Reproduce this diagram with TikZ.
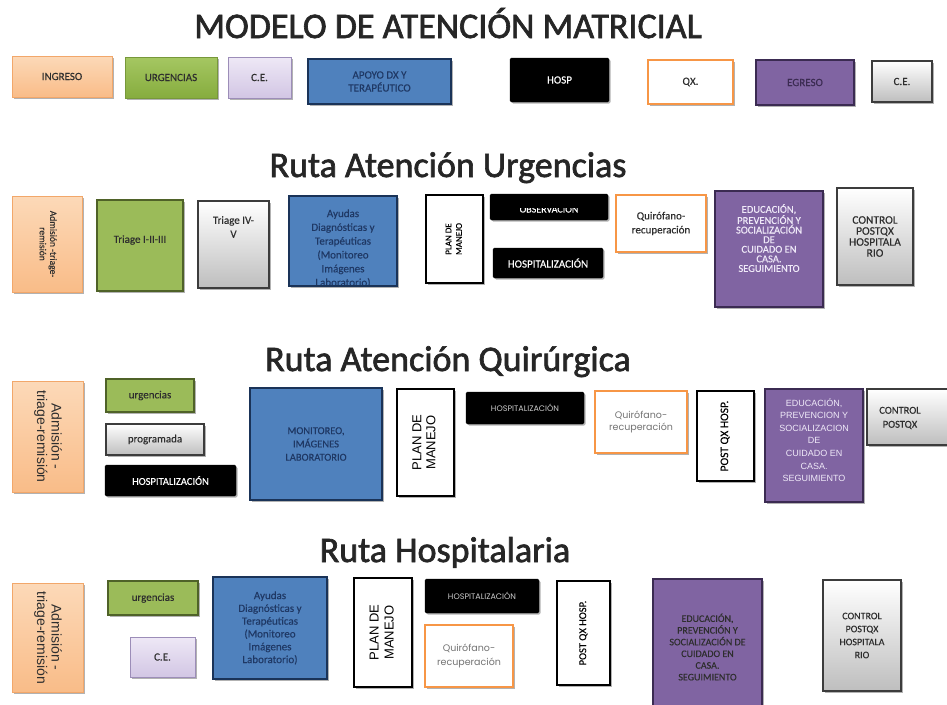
\documentclass[tikz,border=0pt]{standalone}
\usepackage{fontspec}
\setmainfont{Carlito}[FakeBold=0.25]
\newfontfamily\titlef{Carlito}[FakeBold=1.8]
\newfontfamily\arialf{Liberation Sans}
\newfontfamily\gothf{Poppins}
\usepackage{graphicx}
\usetikzlibrary{shadows}
\definecolor{orTop}{HTML}{FCD9B8}
\definecolor{orBot}{HTML}{F9BC88}
\definecolor{orLine}{HTML}{F2A76A}
\definecolor{grFill}{HTML}{9BBB59}
\definecolor{grLine}{HTML}{4F6228}
\definecolor{grTopA}{HTML}{A5C762}
\definecolor{grBotA}{HTML}{86AC3E}
\definecolor{grLineA}{HTML}{77983A}
\definecolor{lvTop}{HTML}{EEE8F6}
\definecolor{lvBot}{HTML}{D2C6E4}
\definecolor{lvLine}{HTML}{9C8DB8}
\definecolor{blFill}{HTML}{4F81BD}
\definecolor{blLine}{HTML}{1A3358}
\definecolor{blText}{HTML}{1F3864}
\definecolor{qxLine}{HTML}{F79646}
\definecolor{ppFill}{HTML}{8064A2}
\definecolor{ppLine}{HTML}{3B2B52}
\definecolor{ppText}{HTML}{EFE9F8}
\definecolor{gyBot}{HTML}{BEBEBE}
\definecolor{gyLine}{HTML}{3C3C3C}
\definecolor{txDark}{HTML}{2E2E2E}
\newcommand{\fs}[2]{\fontsize{#1}{#2}\selectfont}
\newcommand{\rt}[2]{\rotatebox{#1}{\begin{tabular}{@{}c@{}}#2\end{tabular}}}
\newcommand{\bx}[7]{\node[#2, minimum width={#5-#3}, minimum height={#6-#4}] (#1) at ({(#3+#5)/2},{(#4+#6)/2}) {#7};}
\tikzset{
  boxbase/.style={draw, inner sep=0pt, align=center, font=\fs{11}{13}, text=txDark,
    drop shadow={shadow xshift=1.5pt, shadow yshift=-1.5pt, opacity=.3, fill=black}},
  orbox/.style={boxbase, top color=orTop, bottom color=orBot, draw=orLine, line width=1pt},
  grbox/.style={boxbase, fill=grFill, draw=grLine, line width=2.5pt},
  grboxlt/.style={boxbase, top color=grTopA, bottom color=grBotA, draw=grLineA, line width=1pt},
  lvbox/.style={boxbase, top color=lvTop, bottom color=lvBot, draw=lvLine, line width=1pt},
  blbox/.style={boxbase, fill=blFill, draw=blLine, line width=2.5pt, text=blText},
  bkbox/.style={boxbase, fill=black, draw=black, rounded corners=1.5pt, text=white},
  qxbox/.style={boxbase, fill=white, draw=qxLine, line width=2.5pt},
  ppbox/.style={boxbase, fill=ppFill, draw=ppLine, line width=2.5pt, text=ppText},
  gybox/.style={boxbase, top color=white, bottom color=gyBot, draw=gyLine, line width=1.2pt},
  wkbox/.style={boxbase, fill=white, draw=black, line width=2.5pt, text=black},
  gothsmall/.style={font={\gothf\fs{8}{10}}, text=black!20},
  gothgrey/.style={font={\gothf\fs{9.5}{12}}, text=black!55},
  lbl/.style={inner sep=0pt, align=center, font=\fs{11}{13}, text=txDark},
  ttl/.style={font=\titlef\fs{36}{40}, anchor=base, inner sep=0pt, text=black!85}
}
\begin{document}
\begin{tikzpicture}[x=1pt,y=-1pt]
\useasboundingbox (0,0) rectangle (947,704);
\fill[white] (0,0) rectangle (947,704);
\clip (0,0) rectangle (947,704);

% ---------- titles ----------
\node[ttl] (t1) at (448,38) {MODELO DE ATENCIÓN MATRICIAL};
\node[ttl] (t2) at (448,177) {Ruta Atención Urgencias};
\node[ttl] (t3) at (448,371) {Ruta Atención Quirúrgica};
\node[ttl] (t4) at (445,562) {Ruta Hospitalaria};

% ---------- top row ----------
\bx{ingreso}{orbox}{12}{56}{112}{97}{INGRESO}
\bx{urgtop}{grboxlt}{125}{57}{217}{98}{URGENCIAS}
\bx{cetop}{lvbox}{228}{57}{291}{98}{C.E.}
\bx{apoyo}{blbox}{308}{59}{451}{104}{APOYO DX Y\\TERAPÉUTICO}
\bx{hosp}{bkbox}{510}{58}{609}{102}{HOSP}
\bx{qx}{qxbox}{648}{60}{733}{104}{QX.}
\bx{egreso}{ppbox, text=ppLine}{756}{60}{854}{105}{EGRESO}
\bx{cetopb}{gybox}{872}{61}{932}{102}{C.E.}

% ---------- row 2: urgencias ----------
\bx{adma}{orbox}{12}{196}{82}{292}{\fs{9.5}{10.5}\rt{-90}{Admisión -triage-\\remisión}}
\bx{triA}{grbox}{97}{200}{183}{291}{}
\node[lbl] (triAt) at (140,240) {Triage I-II-III};
\bx{triB}{gybox}{198}{201}{269}{288}{}
\node[lbl, font=\fs{11}{14}] (triBt) at (233.5,227) {Triage IV-\\V};
\bx{ayuA}{blbox}{289}{196}{397}{286}{}
\begin{scope}
\clip (291,198) rectangle (395,284);
\node[lbl, text=blText, font=\fs{11}{13.8}] (ayuAt) at (343,248.5) {Ayudas\\Diagnósticas y\\Terapéuticas\\(Monitoreo\\Imágenes\\Laboratorio)};
\end{scope}
\bx{planA}{wkbox}{426}{195}{483}{283}{\fs{9}{10.5}\rt{90}{PLAN DE\\MANEJO}}
\bx{obsA}{bkbox}{490}{194}{608}{220}{}
\begin{scope}
\clip (490,208.5) rectangle (608,220);
\node[lbl, text=white, font=\fs{10}{12}, anchor=base] (obsAt) at (549,212.5) {OBSERVACIÓN};
\end{scope}
\bx{hospA}{bkbox}{493}{248}{603}{278}{HOSPITALIZACIÓN}
\bx{qrfA}{qxbox, font=\fs{11}{14}}{616}{195}{706}{252}{Quirófano-\\recuperación}
\bx{eduA}{ppbox}{715}{191}{823}{307}{}
\node[lbl, text=ppText, font=\fs{10.5}{9.6}] (eduAt) at (769,238) {EDUCACIÓN,\\PREVENCIÓN Y\\SOCIALIZACIÓN\\DE\\CUIDADO EN\\CASA.\\SEGUIMIENTO};
\bx{ctlA}{gybox, font=\fs{11.5}{11}}{837}{188}{913}{285}{CONTROL\\POSTQX\\HOSPITALA\\RIO}

% ---------- row 3: quirurgica ----------
\bx{admb}{orbox}{12}{381}{83}{492}{\arialf\fs{14}{14}\rt{-90}{Admisión -\\triage-remisión}}
\bx{urgB}{grbox, line width=2pt}{106}{379}{194}{412}{urgencias}
\bx{progB}{gybox}{106}{424}{204}{455}{programada}
\bx{hospB}{bkbox, font=\fs{10.5}{12}}{105}{465}{236}{496}{HOSPITALIZACIÓN}
\bx{monB}{blbox, font=\fs{10.5}{13.3}}{250}{388}{382}{500}{MONITOREO,\\IMÁGENES\\LABORATORIO}
\bx{planB}{wkbox}{397}{389}{454}{496}{\arialf\fs{13}{14}\rt{90}{PLAN DE\\MANEJO}}
\bx{hospBb}{bkbox, gothsmall}{466}{392}{584}{424}{HOSPITALIZACIÓN}
\bx{qrfB}{qxbox, line width=2pt, gothgrey}{595}{391}{687}{453}{Quirófano-\\recuperación}
\bx{postB}{wkbox}{697}{391}{754}{481}{\fs{11.5}{13}\rt{90}{POST QX HOSP.}}
\bx{eduB}{ppbox}{765}{389}{863}{502}{}
\node[lbl, text=ppText, font=\arialf\fs{9}{12.6}] (eduBt) at (814,440) {EDUCACIÓN,\\PREVENCION Y\\SOCIALIZACION\\DE\\CUIDADO EN\\CASA.\\SEGUIMIENTO};
\bx{ctlB}{gybox}{867}{389}{952}{445}{}
\node[lbl, font=\fs{10.5}{14}] (ctlBt) at (900,418) {CONTROL\\POSTQX};

% ---------- row 4: hospitalaria ----------
\bx{admc}{orbox}{12}{583}{83}{692}{\arialf\fs{14}{14}\rt{-90}{Admisión -\\triage-remisión}}
\bx{urgC}{grbox, line width=2pt}{108}{581}{198}{615}{urgencias}
\bx{ceC}{lvbox}{130}{637}{195}{677}{C.E.}
\bx{ayuC}{blbox, font=\fs{11}{12.8}}{213}{577}{327}{679}{Ayudas\\Diagnósticas y\\Terapéuticas\\(Monitoreo\\Imágenes\\Laboratorio)}
\bx{planC}{wkbox}{354}{578}{412}{687}{\arialf\fs{13}{15}\rt{90}{PLAN DE\\MANEJO}}
\bx{hospC}{bkbox, gothsmall}{425}{579}{539}{613}{HOSPITALIZACIÓN}
\bx{qrfC}{qxbox, line width=2pt, gothgrey, font={\gothf\fs{9.5}{13.5}}}{425}{625}{513}{687}{Quirófano-\\recuperación}
\bx{postC}{wkbox}{557}{581}{610}{685}{\fs{10.5}{13}\rt{90}{POST QX HOSP.}}
\bx{eduC}{ppbox}{653}{579}{762}{712}{}
\node[lbl, text=txDark, font=\fs{10}{11.7}] (eduCt) at (707.5,647) {EDUCACIÓN,\\PREVENCIÓN Y\\SOCIALIZACIÓN DE\\CUIDADO EN\\CASA.\\SEGUIMIENTO};
\bx{ctlC}{gybox, font=\fs{10}{13}}{823}{580}{901}{691}{CONTROL\\POSTQX\\HOSPITALA\\RIO}
\end{tikzpicture}
\end{document}
